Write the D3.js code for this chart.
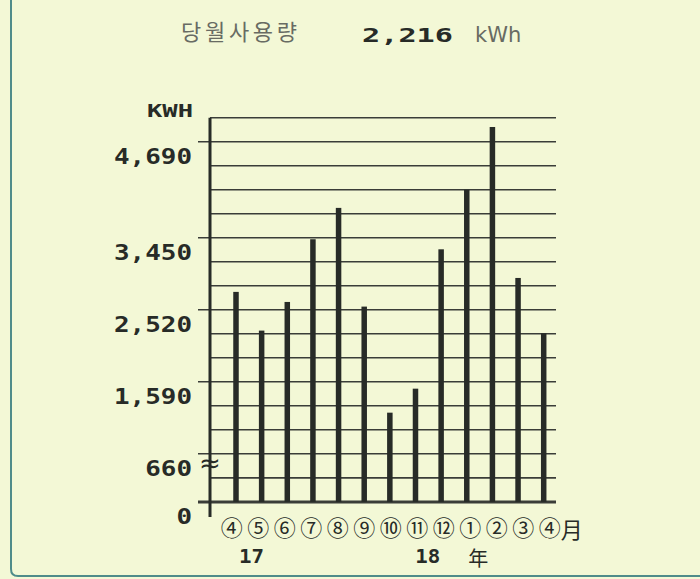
<!DOCTYPE html>
<html>
<head>
<meta charset="utf-8">
<script src="https://cdn.jsdelivr.net/npm/d3@7"></script>
<style>
  body { margin: 0; background: #f3f8d6; }
  svg { display: block; }
</style>
</head>
<body>
<div id="chart"></div>
<script>
// monthly usage, Apr 2017 .. Apr 2018 (kWh)
var months = ["2017-04","2017-05","2017-06","2017-07","2017-08","2017-09","2017-10","2017-11","2017-12","2018-01","2018-02","2018-03","2018-04"];
var monthLabels = ["④","⑤","⑥","⑦","⑧","⑨","⑩","⑪","⑫","①","②","③","④"];
var usage = [2750, 2250, 2620, 3430, 3835, 2560, 1190, 1500, 3300, 4070, 4880, 2930, 2216];
var tickValues = [0, 660, 1590, 2520, 3450, 4690];
var tickLabels = ["0", "660", "1,590", "2,520", "3,450", "4,690"];
var currentUsage = "2,216";

var width = 700, height = 579;
var ink = "#272b27";

var svg = d3.select("#chart")
	.append("svg")
	.attr("width", width)
	.attr("height", height);

svg.append("rect")
	.attr("width", width)
	.attr("height", height)
	.attr("fill", "#f3f8d6");

// frame of the bill (left + bottom edge, rounded corner)
svg.append("path")
	.attr("d", "M11,-5 L11,569 Q11,576 18,576 L705,576")
	.attr("fill", "none")
	.attr("stroke", "#4f8c8a")
	.attr("stroke-width", 2);

// header
svg.append("text")
	.attr("x", 181).attr("y", 40)
	.attr("font-family", "Noto Sans CJK KR")
	.attr("font-size", 22)
	.attr("textLength", 116)
	.attr("lengthAdjust", "spacing")
	.attr("fill", "#686b63")
	.text("당월사용량");
svg.append("text")
	.attr("x", 362).attr("y", 42)
	.attr("font-family", "DejaVu Sans Mono")
	.attr("font-weight", "bold")
	.attr("font-size", 19)
	.attr("textLength", 91)
	.attr("lengthAdjust", "spacingAndGlyphs")
	.attr("fill", ink)
	.text(currentUsage);
svg.append("text")
	.attr("x", 475).attr("y", 42)
	.attr("font-family", "DejaVu Sans")
	.attr("font-size", 21)
	.attr("fill", "#686b63")
	.text("kWh");

// scales -- broken axis, 0..660 squeezed
var y = d3.scaleLinear()
	.domain([0, 660, 5000])
	.range([502, 453.7, 117.7]);

var x = d3.scalePoint()
	.domain(months)
	.range([236, 543.7]);

var xLab = d3.scalePoint()
	.domain(months)
	.range([231.7, 549.7]);

var axisX = 210, gridRight = 556;

// grid lines
var gridVals = [0, 330].concat(d3.range(660, 5001, 310));
svg.selectAll(".grid")
	.data(gridVals)
	.enter().append("line")
	.attr("class", "grid")
	.attr("x1", function(d) { return tickValues.indexOf(d) >= 0 ? 198 : axisX; })
	.attr("x2", gridRight)
	.attr("y1", function(d) { return y(d); })
	.attr("y2", function(d) { return y(d); })
	.attr("stroke", "#3a3d38")
	.attr("stroke-width", function(d) { return d === 0 ? 3 : 1.6; });

// y axis line
svg.append("line")
	.attr("x1", axisX).attr("x2", axisX)
	.attr("y1", y(5000)).attr("y2", 517)
	.attr("stroke", ink)
	.attr("stroke-width", 3);

// break mark
svg.append("text")
	.attr("x", 210).attr("y", 472)
	.attr("text-anchor", "middle")
	.attr("font-family", "DejaVu Sans")
	.attr("font-size", 26)
	.attr("fill", ink)
	.text("≈");

// tick labels
svg.selectAll(".tick")
	.data(tickValues)
	.enter().append("text")
	.attr("class", "tick")
	.attr("x", 192)
	.attr("y", function(d) { return y(d) + 22; })
	.attr("text-anchor", "end")
	.attr("font-family", "DejaVu Sans Mono")
	.attr("font-weight", "bold")
	.attr("font-size", 21)
	.attr("textLength", function(d, i) { return tickLabels[i].length * 15.6; })
	.attr("lengthAdjust", "spacingAndGlyphs")
	.attr("fill", ink)
	.text(function(d, i) { return tickLabels[i]; });

svg.append("text")
	.attr("x", 147).attr("y", 117)
	.attr("font-family", "DejaVu Sans Mono")
	.attr("font-weight", "bold")
	.attr("font-size", 18)
	.attr("textLength", 46)
	.attr("lengthAdjust", "spacingAndGlyphs")
	.attr("fill", ink)
	.text("KWH");

// bars
svg.selectAll(".bar")
	.data(usage)
	.enter().append("rect")
	.attr("class", "bar")
	.attr("x", function(d, i) { return x(months[i]) - 2.75; })
	.attr("y", function(d) { return y(d); })
	.attr("width", 5.5)
	.attr("height", function(d) { return y(0) - y(d); })
	.attr("fill", ink);

// month labels
svg.selectAll(".mlab")
	.data(monthLabels)
	.enter().append("text")
	.attr("class", "mlab")
	.attr("x", function(d, i) { return xLab(months[i]); })
	.attr("y", 536)
	.attr("text-anchor", "middle")
	.attr("font-family", "Noto Sans CJK JP")
	.attr("font-size", 22)
	.attr("fill", ink)
	.text(function(d) { return d; });

svg.append("text")
	.attr("x", xLab(months[12]) + 22).attr("y", 538)
	.attr("text-anchor", "middle")
	.attr("font-family", "Noto Sans CJK JP")
	.attr("font-size", 22)
	.attr("fill", ink)
	.text("月");

// year labels
var years = [{label: "17", at: 0.75}, {label: "18", at: 7.4}];
svg.selectAll(".yr")
	.data(years)
	.enter().append("text")
	.attr("class", "yr")
	.attr("x", function(d) { return xLab(months[0]) + d.at * xLab.step(); })
	.attr("y", 563)
	.attr("text-anchor", "middle")
	.attr("font-family", "DejaVu Sans Mono")
	.attr("font-weight", "bold")
	.attr("font-size", 20)
	.attr("textLength", 25)
	.attr("lengthAdjust", "spacingAndGlyphs")
	.attr("fill", ink)
	.text(function(d) { return d.label; });

svg.append("text")
	.attr("x", xLab(months[0]) + 9.3 * xLab.step()).attr("y", 566)
	.attr("text-anchor", "middle")
	.attr("font-family", "Noto Sans CJK JP")
	.attr("font-size", 20)
	.attr("fill", ink)
	.text("年");
</script>
</body>
</html>
